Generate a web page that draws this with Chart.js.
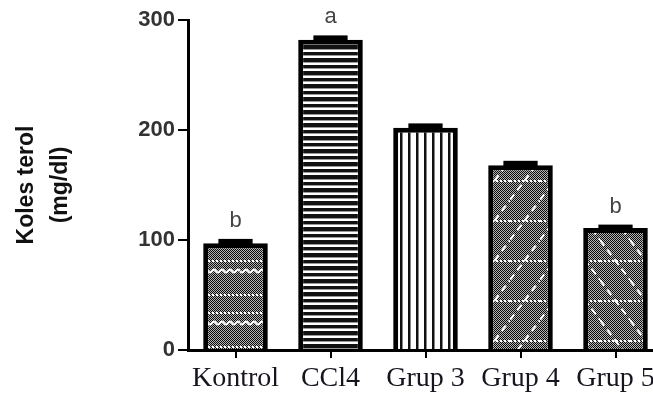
<!DOCTYPE html>
<html><head><meta charset="utf-8">
<script src="https://cdn.jsdelivr.net/npm/chart.js@4.4.1/dist/chart.umd.min.js"></script>
<style>html,body{margin:0;padding:0;background:#fff;overflow:hidden;width:653px;height:409px}
#wrap{width:665px;height:409px;position:relative}</style>
</head><body><div id="wrap"><canvas id="c" width="665" height="409"></canvas></div>
<script>
const categories = ['Kontrol', 'CCl4', 'Grup 3', 'Grup 4', 'Grup 5'];
const cholesterol = [97, 282, 202, 168, 111];
const semErrors = [4, 4, 4, 4, 3];
const sigLetters = ['b', 'a', '', '', 'b'];
const yTicks = [0, 100, 200, 300];

function tile(w, h, draw) {
  const c = document.createElement('canvas');
  c.width = w; c.height = h;
  const g = c.getContext('2d');
  g.fillStyle = '#fff'; g.fillRect(0, 0, w, h);
  draw(g, w, h);
  return document.getElementById('c').getContext('2d').createPattern(c, 'repeat');
}
function checker(g, w, h) {
  g.fillStyle = '#b4b4b4'; g.fillRect(0, 0, w, h);
  g.fillStyle = '#0a0a0a';
  for (let y = 0; y < h; y++) for (let x = 0; x < w; x++) if ((x + y) % 2 === 0) g.fillRect(x, y, 1, 1);
}
function dotRow(g, w, y) {
  g.fillStyle = '#fff';
  for (let x = 0; x < w; x += 4) g.fillRect(x, y, 2, 2);
}
const patKontrol = tile(48, 52, (g, w, h) => {
  checker(g, w, h);
  dotRow(g, w, 0); dotRow(g, w, 34);
  g.strokeStyle = '#fff'; g.lineWidth = 2; g.beginPath();
  for (let x = 0; x <= w; x++) { const y = 11 + 1.5 * Math.sin(x / 8 * 2 * Math.PI); x ? g.lineTo(x, y) : g.moveTo(x, y); }
  g.stroke();
});
const patCCl4 = tile(8, 13, (g, w, h) => {
  g.fillStyle = '#111'; g.fillRect(0, 0, w, 3); g.fillRect(0, 6, w, 4);
  g.fillStyle = '#999'; g.fillRect(0, 3, w, 1); g.fillRect(0, 10, w, 1);
});
const patGrup3 = tile(8, 8, (g, w, h) => {
  g.fillStyle = '#111'; g.fillRect(0, 0, 2, h);
  g.fillStyle = '#888'; g.fillRect(2, 0, 1, h);
});
function diag(forward) {
  return tile(30, 40, (g, w, h) => {
    checker(g, w, h);
    dotRow(g, w, 20);
    g.strokeStyle = '#fff'; g.lineWidth = 2; g.setLineDash([7, 5]);
    g.beginPath();
    if (forward) { g.moveTo(0, h); g.lineTo(w, 0); } else { g.moveTo(0, 0); g.lineTo(w, h); }
    g.stroke();
  });
}
const patGrup4 = diag(true);
const patGrup5 = diag(false);

const errorCapPlugin = {
  id: 'errcap',
  afterDatasetsDraw(chart) {
    const ctx = chart.ctx, meta = chart.getDatasetMeta(0), ys = chart.scales.y;
    ctx.save();
    meta.data.forEach((bar, i) => {
      const top = ys.getPixelForValue(cholesterol[i] + semErrors[i]);
      const capW = bar.width * 0.53;
      ctx.fillStyle = '#000';
      ctx.fillRect(bar.x - capW / 2, top, capW, bar.y - top + 2);
      if (sigLetters[i]) {
        ctx.font = '22px "Liberation Sans"';
        ctx.fillStyle = '#444';
        ctx.textAlign = 'center';
        ctx.textBaseline = 'alphabetic';
        ctx.fillText(sigLetters[i], bar.x, top - 12);
      }
    });
    ctx.restore();
  }
};

new Chart(document.getElementById('c'), {
  type: 'bar',
  data: {
    labels: categories,
    datasets: [{
      data: cholesterol,
      backgroundColor: [patKontrol, patCCl4, patGrup3, patGrup4, patGrup5],
      borderColor: '#000',
      borderWidth: 5,
      barPercentage: 0.68,
      categoryPercentage: 1
    }]
  },
  options: {
    responsive: false,
    animation: false,
    layout: { padding: { left: 0, right: 2, top: 20, bottom: 0 } },
    plugins: { legend: { display: false }, tooltip: { enabled: false } },
    scales: {
      x: {
        offset: true,
        grid: { display: true, offset: false, drawOnChartArea: false, drawTicks: true, tickLength: 8, lineWidth: 2, color: '#000' },
        border: { display: true, width: 3, color: '#000' },
        ticks: { font: { family: 'Liberation Serif', size: 28 }, color: '#15151f', padding: 4, maxRotation: 0, autoSkip: false },
        afterFit(s) { s.height = 59; }
      },
      y: {
        min: 0, max: 300,
        afterBuildTicks(s) { s.ticks = yTicks.map(v => ({ value: v })); },
        grid: { display: true, drawOnChartArea: false, drawTicks: true, tickLength: 10, lineWidth: 2, color: '#000' },
        border: { display: true, width: 3, color: '#000' },
        ticks: { font: { family: 'Liberation Sans', size: 22, weight: 'bold' }, color: '#333', padding: 3 },
        title: {
          display: true, text: ['Koles terol', '(mg/dl)'],
          font: { family: 'Liberation Sans', size: 23, weight: 'bold', lineHeight: 1.5 },
          color: '#111', padding: { top: 9, bottom: 0 }
        },
        afterFit(s) { s.width = 188; }
      }
    }
  },
  plugins: [errorCapPlugin]
});
</script></body></html>
